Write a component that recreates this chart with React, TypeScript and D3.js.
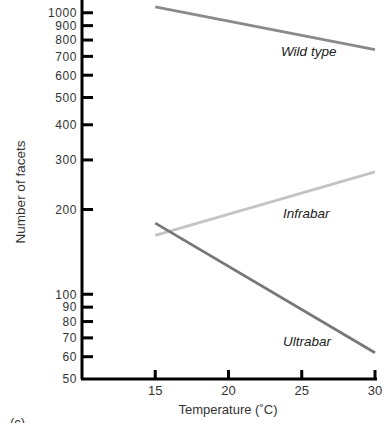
import * as d3 from 'd3';
import React, { useEffect } from 'react';

// Facet number vs temperature for three Bar genotypes (log y)
const temperatures = [15, 30];
const wildType = [1050, 740];
const infrabar = [162, 272];
const ultrabar = [179, 62];
const yTicks = [50, 60, 70, 80, 90, 100, 200, 300, 400, 500, 600, 700, 800, 900, 1000];
const xTicks = [15, 20, 25, 30];

const series = [
  { name: 'Wild type', values: wildType, color: '#8a8a8a', labelX: 281, labelV: 700 },
  { name: 'Infrabar', values: infrabar, color: '#c4c4c4', labelX: 283, labelV: 187 },
  { name: 'Ultrabar', values: ultrabar, color: '#777777', labelX: 283, labelV: 65.5 },
];

export default function App() {
  const ref = React.useRef<HTMLDivElement>(null);

  useEffect(() => {
    if (!ref.current) return;
    ref.current.innerHTML = '';

    const W = 386;
    const H = 423;
    const font = 'Liberation Sans, Arial, sans-serif';

    const svg = d3
      .select(ref.current)
      .append('svg')
      .attr('width', W)
      .attr('height', H)
      .style('position', 'absolute')
      .style('left', '0px')
      .style('top', '0px')
      .style('font-family', font);

    const x = d3.scaleLinear().domain([10, 30]).range([82, 375]);
    const y = d3.scaleLog().domain([50, 1110]).range([379, 0]);

    // Y axis
    const yAxis = svg.append('g');
    yAxis
      .append('line')
      .attr('x1', 82)
      .attr('x2', 82)
      .attr('y1', 0)
      .attr('y2', 379)
      .attr('stroke', '#000')
      .attr('stroke-width', 3);
    yTicks.forEach(t => {
      if (t !== 50) {
        yAxis
          .append('line')
          .attr('x1', 82)
          .attr('x2', 93)
          .attr('y1', y(t))
          .attr('y2', y(t))
          .attr('stroke', '#000')
          .attr('stroke-width', 3);
      }
      yAxis
        .append('text')
        .attr('x', 77)
        .attr('y', y(t))
        .attr('dy', '0.36em')
        .attr('text-anchor', 'end')
        .attr('font-size', 12)
        .attr('letter-spacing', 0.6)
        .attr('fill', '#333')
        .text(t);
    });

    // X axis
    const xAxis = svg.append('g');
    xAxis
      .append('line')
      .attr('x1', 81)
      .attr('x2', 377)
      .attr('y1', 379)
      .attr('y2', 379)
      .attr('stroke', '#000')
      .attr('stroke-width', 3);
    xTicks.forEach(t => {
      xAxis
        .append('line')
        .attr('x1', x(t))
        .attr('x2', x(t))
        .attr('y1', 379)
        .attr('y2', 370)
        .attr('stroke', '#000')
        .attr('stroke-width', 3);
      xAxis
        .append('text')
        .attr('x', x(t))
        .attr('y', 395)
        .attr('text-anchor', 'middle')
        .attr('font-size', 13)
        .attr('fill', '#333')
        .text(t);
    });

    // Axis titles
    svg
      .append('text')
      .attr('x', 228)
      .attr('y', 414)
      .attr('text-anchor', 'middle')
      .attr('font-size', 13)
      .attr('fill', '#333')
      .text('Temperature (˚C)');
    svg
      .append('text')
      .attr('transform', 'translate(25,192) rotate(-90)')
      .attr('text-anchor', 'middle')
      .attr('font-size', 13.5)
      .attr('fill', '#333')
      .text('Number of facets');
    svg
      .append('text')
      .attr('x', 10)
      .attr('y', 427)
      .attr('font-size', 13)
      .attr('fill', '#333')
      .text('(c)');

    // Lines
    const line = d3
      .line<number>()
      .x((d, i) => x(temperatures[i]))
      .y(d => y(d));

    series.forEach(s => {
      svg
        .append('path')
        .datum(s.values)
        .attr('fill', 'none')
        .attr('stroke', s.color)
        .attr('stroke-width', 2.8)
        .attr('d', line);
      svg
        .append('text')
        .attr('x', s.labelX)
        .attr('y', y(s.labelV))
        .attr('font-size', 13.5)
        .attr('font-style', 'italic')
        .attr('fill', '#222')
        .text(s.name);
    });
  }, []);

  return <div ref={ref}></div>;
}
